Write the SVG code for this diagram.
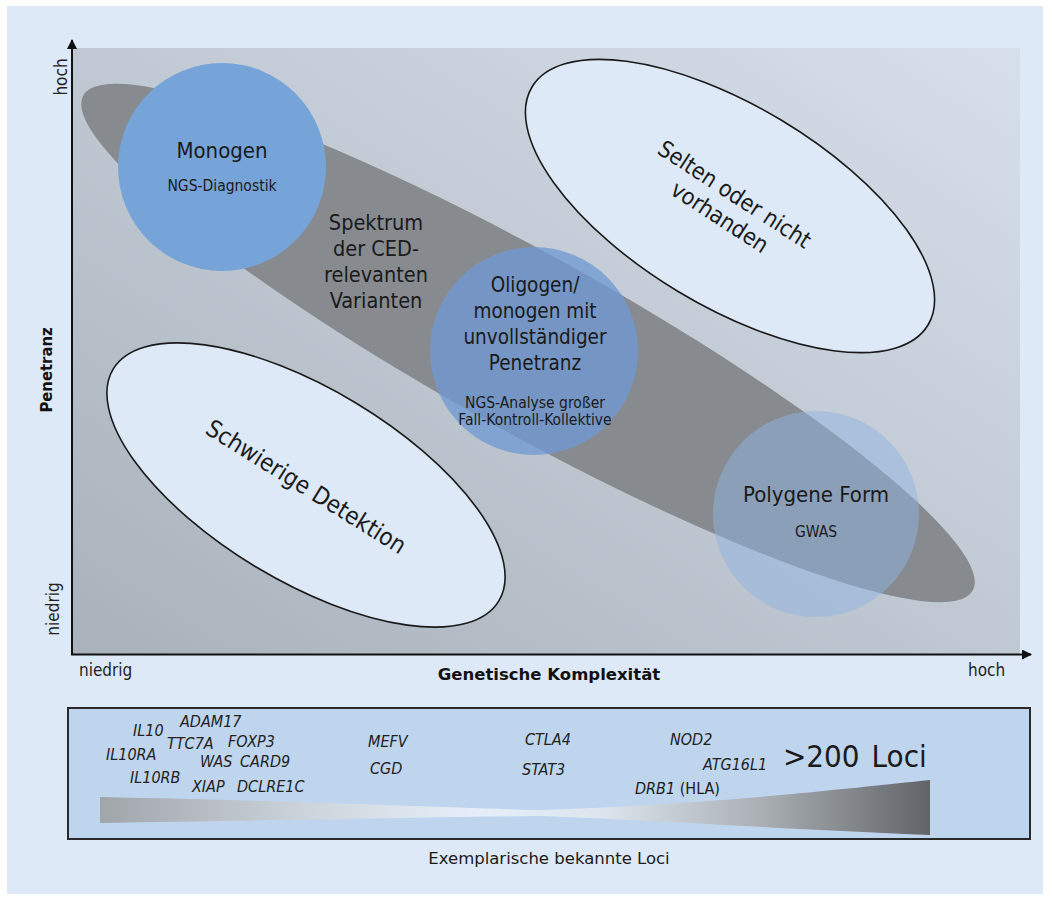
<svg xmlns="http://www.w3.org/2000/svg" width="1052" height="901" viewBox="0 0 1052 901">
<defs>
<style>
text{font-family:"DejaVu Sans Condensed","DejaVu Sans",sans-serif;fill:#1a1a1a}
.reg{font-family:"DejaVu Sans",sans-serif}
.c{text-anchor:middle}
.gene{font-style:italic;font-size:16px;fill:#222}
.ax{font-size:17px;fill:#222}
.axb{font-size:16.5px;font-weight:bold;fill:#111}
.big{font-size:20.5px}
.sm{font-size:15.5px}
.oval{fill:#dde9f6;stroke:#1a1a1a;stroke-width:1.6}
.axis{stroke:#111;stroke-width:2;fill:none}
</style>
<linearGradient id="plotbg" x1="0" y1="1" x2="1" y2="0">
<stop offset="0" stop-color="#a9b1bb"/>
<stop offset="1" stop-color="#d7e0ea"/>
</linearGradient>
<linearGradient id="wedge" x1="100" y1="0" x2="930" y2="0" gradientUnits="userSpaceOnUse">
<stop offset="0" stop-color="#a0a5aa"/>
<stop offset="0.25" stop-color="#cdd4db"/>
<stop offset="0.45" stop-color="#e6eff9"/>
<stop offset="0.6" stop-color="#dde6ef"/>
<stop offset="0.8" stop-color="#a9aeb3"/>
<stop offset="1" stop-color="#606469"/>
</linearGradient>
<marker id="arr" viewBox="0 0 10 10" refX="9" refY="5" markerWidth="5" markerHeight="5" orient="auto" markerUnits="strokeWidth">
<path d="M0,0 L10,5 L0,10 Z" fill="#111"/>
</marker>
</defs>
<rect x="0" y="0" width="1052" height="901" fill="#ffffff"/>
<rect x="7" y="6" width="1036" height="888" fill="#dde9f6"/>
<g id="plot-area">
<rect x="72" y="48" width="948" height="607" fill="url(#plotbg)"/>
</g>
<g id="spektrum">
<ellipse cx="528" cy="343" rx="509" ry="88" transform="rotate(29.1 528 343)" fill="#878b8f"/>
<text class="c" font-size="21.5" x="376" y="230">Spektrum</text>
<text class="c" font-size="21.5" x="376" y="256">der CED-</text>
<text class="c" font-size="21.5" x="376" y="282">relevanten</text>
<text class="c" font-size="21.5" x="376" y="308">Varianten</text>
</g>
<g id="selten">
<ellipse class="oval" cx="730" cy="206" rx="231" ry="100" transform="rotate(31 730 206)"/>
<g transform="translate(727 206) rotate(33)">
<text class="c" font-size="23" x="0" y="-6">Selten oder nicht</text>
<text class="c" font-size="23" x="0" y="21">vorhanden</text>
</g>
</g>
<g id="schwierig">
<ellipse class="oval" cx="306" cy="485" rx="225" ry="96" transform="rotate(31 306 485)"/>
<text class="c" font-size="24" transform="translate(306 487) rotate(32)" x="0" y="8">Schwierige Detektion</text>
</g>
<g id="monogen">
<circle cx="222" cy="167" r="104" fill="#76a4d9"/>
<text class="c" font-size="22" x="222" y="158">Monogen</text>
<text class="c sm" x="222" y="191">NGS-Diagnostik</text>
</g>
<g id="oligogen">
<circle cx="534" cy="351" r="104" fill="#6f9ad4" fill-opacity="0.78"/>
<text class="c big" x="535" y="292">Oligogen/</text>
<text class="c big" x="535" y="318">monogen mit</text>
<text class="c big" x="535" y="344">unvollständiger</text>
<text class="c big" x="535" y="370">Penetranz</text>
<text class="c sm" x="535" y="408">NGS-Analyse großer</text>
<text class="c sm" x="535" y="425">Fall-Kontroll-Kollektive</text>
</g>
<g id="polygen">
<circle cx="816" cy="514" r="103" fill="#8fb4e4" fill-opacity="0.5"/>
<text class="c" font-size="22" x="816" y="502">Polygene Form</text>
<text class="c sm" x="816" y="537">GWAS</text>
</g>
<g id="axes">
<line class="axis" x1="72" y1="655" x2="72" y2="40" marker-end="url(#arr)"/>
<line class="axis" x1="71" y1="654.5" x2="1031" y2="654.5" marker-end="url(#arr)"/>
<text class="ax c" transform="translate(67 77) rotate(-90)">hoch</text>
<text class="ax c" transform="translate(59 609) rotate(-90)">niedrig</text>
<text class="axb c" transform="translate(52 370) rotate(-90)">Penetranz</text>
<text class="ax" x="79" y="676">niedrig</text>
<text class="axb c reg" x="549" y="680">Genetische Komplexität</text>
<text class="ax" x="968" y="676">hoch</text>
</g>
<g id="loci-box">
<rect x="68" y="708" width="962" height="131" fill="#bfd5ee" stroke="#2a2a2a" stroke-width="2"/>
<path d="M100,797 C300,801 450,808 540,810 C700,806 850,788 930,780 L930,835 C800,830 650,820 540,816 C450,817 300,820 100,823 Z" fill="url(#wedge)"/>
<text class="gene" x="133" y="736">IL10</text>
<text class="gene" x="180" y="727">ADAM17</text>
<text class="gene" x="167" y="749">TTC7A</text>
<text class="gene" x="228" y="747">FOXP3</text>
<text class="gene" x="106" y="760">IL10RA</text>
<text class="gene" x="200" y="767">WAS</text>
<text class="gene" x="240" y="767">CARD9</text>
<text class="gene" x="130" y="783">IL10RB</text>
<text class="gene" x="192" y="792">XIAP</text>
<text class="gene" x="237" y="792">DCLRE1C</text>
<text class="gene" x="368" y="747">MEFV</text>
<text class="gene" x="370" y="774">CGD</text>
<text class="gene" x="525" y="745">CTLA4</text>
<text class="gene" x="522" y="775">STAT3</text>
<text class="gene" x="670" y="745">NOD2</text>
<text class="gene" x="703" y="770">ATG16L1</text>
<text x="635" y="794" font-size="16" fill="#222"><tspan font-style="italic">DRB1</tspan> (HLA)</text>
<text x="783" y="767" font-size="31" fill="#111">&gt;200<tspan dx="12">Loci</tspan></text>
</g>
<text class="c reg" x="549" y="864" font-size="16.5" fill="#222">Exemplarische bekannte Loci</text>
</svg>
